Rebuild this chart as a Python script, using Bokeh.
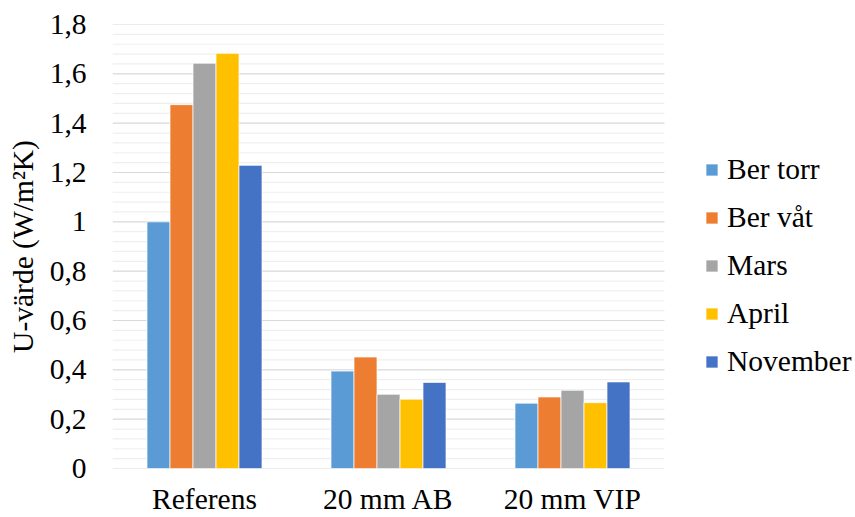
from bokeh.plotting import figure
from bokeh.models import (Range1d, FixedTicker, Legend, LegendItem,
                          ColumnDataSource)
from bokeh.transform import dodge
from bokeh.embed import file_html
from bokeh.resources import INLINE

categories = ["Referens", "20 mm AB", "20 mm VIP"]
series = ["Ber torr", "Ber våt", "Mars", "April", "November"]
ber_torr = [1.000, 0.395, 0.265]
ber_vat = [1.475, 0.452, 0.290]
mars = [1.643, 0.301, 0.317]
april = [1.683, 0.281, 0.267]
november = [1.229, 0.349, 0.351]
y_ticks = [0, 0.2, 0.4, 0.6, 0.8, 1.0, 1.2, 1.4, 1.6, 1.8]
y_tick_labels = ["0", "0,2", "0,4", "0,6", "0,8", "1", "1,2", "1,4", "1,6", "1,8"]
y_label = "U-värde (W/m²K)"

colors = ["#5B9BD5", "#ED7D31", "#A5A5A5", "#FFC000", "#4472C4"]
offsets = [-0.25, -0.125, 0.0, 0.125, 0.25]
FONT = "'Liberation Serif', 'DejaVu Serif', serif"
FS = "29.5px"

W, H = 855, 517
LEFT, TOP, BOTTOM = 112, 24, 48
PLOT_W = 552          # width of the bar area in px
n = len(categories)
cat_x = [i + 0.5 for i in range(n)]
x_end = n * (W - LEFT) / PLOT_W   # extend frame to the right to host the legend

source = ColumnDataSource(dict(x=cat_x, s0=ber_torr, s1=ber_vat,
                               s2=mars, s3=april, s4=november))

p = figure(width=W, height=H, output_backend="svg", toolbar_location=None,
           x_range=Range1d(0, x_end), y_range=Range1d(0, 1.8),
           min_border_left=LEFT, min_border_right=0,
           min_border_top=TOP, min_border_bottom=BOTTOM)
p.outline_line_color = None
p.background_fill_color = "white"
p.border_fill_color = "white"
p.xgrid.grid_line_color = None
p.ygrid.grid_line_color = None

# gridlines limited to the bar area
minor = [round(k * 0.04, 2) for k in range(46) if k % 5 != 0]
p.segment(x0=[0] * len(minor), x1=[n] * len(minor), y0=minor, y1=minor,
          line_color="#efefef", line_width=1.2)
p.segment(x0=[0] * len(y_ticks), x1=[n] * len(y_ticks), y0=y_ticks, y1=y_ticks,
          line_color="#d9d9d9", line_width=1.2)

renderers = []
for i, name in enumerate(series):
    r = p.vbar(x=dodge("x", offsets[i]), top="s%d" % i,
               width=0.125, source=source, fill_color=colors[i],
               line_color="white", line_width=1, line_alpha=0.7)
    renderers.append(r)

p.yaxis.ticker = FixedTicker(ticks=y_ticks, minor_ticks=[])
p.yaxis.major_label_overrides = {t: l for t, l in zip(y_ticks, y_tick_labels)}
p.xaxis.ticker = FixedTicker(ticks=cat_x, minor_ticks=[])
p.xaxis.major_label_overrides = {x: c for x, c in zip(cat_x, categories)}

for ax in (p.xaxis, p.yaxis):
    ax.axis_line_color = None
    ax.major_tick_line_color = None
    ax.minor_tick_line_color = None
    ax.major_tick_out = 0
    ax.minor_tick_out = 0
    ax.major_label_text_font = FONT
    ax.major_label_text_font_size = FS
    ax.major_label_text_color = "black"

p.yaxis.major_label_standoff = 26
p.yaxis.axis_label = y_label
p.yaxis.axis_label_text_font = FONT
p.yaxis.axis_label_text_font_size = FS
p.yaxis.axis_label_text_font_style = "normal"
p.yaxis.axis_label_text_color = "black"
p.yaxis.axis_label_standoff = 8
p.xaxis.major_label_standoff = 14

legend = Legend(items=[LegendItem(label=s, renderers=[r]) for s, r in zip(series, renderers)],
                location=(592, 90), orientation="vertical",
                label_text_font=FONT, label_text_font_size=FS,
                label_text_color="black",
                glyph_width=15, glyph_height=15, label_height=34, spacing=14,
                label_standoff=8, padding=0, margin=0,
                border_line_color=None, background_fill_alpha=0)
p.add_layout(legend)

open("out.html", "w").write(file_html(p, INLINE))
